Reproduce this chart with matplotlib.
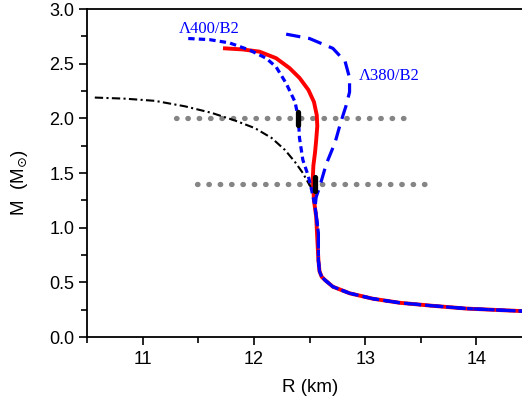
import matplotlib
matplotlib.use("Agg")
import matplotlib.pyplot as plt
from matplotlib.ticker import MultipleLocator, FormatStrFormatter

# Common low-mass branch (shared by all curves)
low_R = [12.58, 12.58, 12.59, 12.61, 12.64, 12.71, 12.86, 13.07, 13.31, 13.61, 13.91, 14.21, 14.41]
low_M = [0.95, 0.70, 0.60, 0.55, 0.52, 0.46, 0.40, 0.35, 0.313, 0.285, 0.26, 0.246, 0.237]

# Red solid curve
red_R = [11.74, 11.90, 12.05, 12.20, 12.32, 12.41, 12.49, 12.54, 12.565, 12.57, 12.56, 12.55, 12.535, 12.53, 12.54, 12.56] + low_R[1:]
red_M = [2.64, 2.63, 2.61, 2.55, 2.46, 2.37, 2.26, 2.15, 2.03, 1.93, 1.80, 1.69, 1.57, 1.46, 1.25, 1.10] + low_M[1:]

# Lambda400/B2 (short dash)
a400_R = [11.41, 11.60, 11.78, 11.96, 12.11, 12.20, 12.29, 12.37, 12.40, 12.41, 12.44, 12.49, 12.52, 12.55, 12.565] + low_R
a400_M = [2.73, 2.72, 2.69, 2.625, 2.55, 2.47, 2.32, 2.15, 2.0, 1.82, 1.62, 1.47, 1.34, 1.19, 1.07] + low_M

# Lambda380/B2 (long dash)
a380_R = [12.29, 12.50, 12.71, 12.82, 12.86, 12.86, 12.83, 12.78, 12.73, 12.65, 12.59, 12.56, 12.55, 12.565] + low_R
a380_M = [2.77, 2.73, 2.64, 2.52, 2.37, 2.24, 2.12, 1.96, 1.78, 1.58, 1.37, 1.28, 1.19, 1.07] + low_M

# Black dash-dot
blk_R = [10.57, 10.84, 11.11, 11.38, 11.62, 11.83, 12.01, 12.16, 12.28, 12.37, 12.44, 12.50, 12.55]
blk_M = [2.19, 2.18, 2.16, 2.11, 2.05, 1.98, 1.91, 1.82, 1.71, 1.60, 1.50, 1.39, 1.33]

# Gray reference lines
ref_M = [2.0, 1.4]
ref_R0 = [11.30, 11.49]
ref_R1 = [13.43, 13.55]

# Black marker segments
mark_R = [12.40, 12.545]
mark_M0 = [1.94, 1.335]
mark_M1 = [2.06, 1.46]

W, H = 522, 403
fig = plt.figure(figsize=(W / 100, H / 100), dpi=100)
ax = fig.add_axes([87 / W, 1 - 337 / H, 1 - 87 / W, (337 - 9) / H])

for m, r0, r1 in zip(ref_M, ref_R0, ref_R1):
    ax.plot([r0, r1], [m, m], color="#858585", linestyle=(0, (0.1, 2.05)), linewidth=3.8,
            dash_capstyle="round", zorder=1)

ax.plot(blk_R, blk_M, color="black", linestyle=(0, (4, 1.6, 1, 1.6)), linewidth=1.5, zorder=2)
ax.plot(red_R, red_M, color="#ff0000", linewidth=2.8, zorder=3)
ax.plot(a400_R, a400_M, color="#0000ff", linestyle=(0, (2.0, 1.3)), linewidth=2.3, zorder=4)
ax.plot(a380_R, a380_M, color="#0000ff", linestyle=(0, (4.5, 2.5)), linewidth=2.3, zorder=4)

for r, m0, m1 in zip(mark_R, mark_M0, mark_M1):
    ax.plot([r, r], [m0, m1], color="black", linewidth=3.8, zorder=5, solid_capstyle="round")

ax.text(11.33, 2.82, "Λ400/B2", color="#0000ff", fontsize=12, family="Liberation Serif",
        va="center", ha="left")
ax.text(12.94, 2.39, "Λ380/B2", color="#0000ff", fontsize=12, family="Liberation Serif",
        va="center", ha="left")

ax.set_xlim(10.5, 14.41)
ax.set_ylim(0.0, 3.0)
ax.xaxis.set_major_locator(MultipleLocator(1))
ax.xaxis.set_minor_locator(MultipleLocator(0.5))
ax.yaxis.set_major_locator(MultipleLocator(0.5))
ax.yaxis.set_minor_locator(MultipleLocator(0.25))
ax.yaxis.set_major_formatter(FormatStrFormatter("%.1f"))
ax.tick_params(which="major", direction="out", length=6, width=1.2, labelsize=13)
ax.tick_params(which="minor", direction="out", length=4, width=1.2)
ax.tick_params(axis="x", pad=4)
ax.tick_params(axis="y", pad=3)
ax.spines["right"].set_visible(False)
for s in ["left", "bottom", "top"]:
    ax.spines[s].set_linewidth(1.3)
for lab in ax.get_xticklabels() + ax.get_yticklabels():
    lab.set_family("Liberation Sans")

fig.text(310 / W, 1 - 387 / H, "R (km)", fontsize=13.5, family="Liberation Sans",
         ha="center", va="center")
fig.text(20 / W, 1 - 183 / H, r"M  (M$_{\odot}$)", fontsize=13.5, family="Liberation Sans",
         ha="center", va="center", rotation=90)

fig.savefig("out.png", dpi=100)
